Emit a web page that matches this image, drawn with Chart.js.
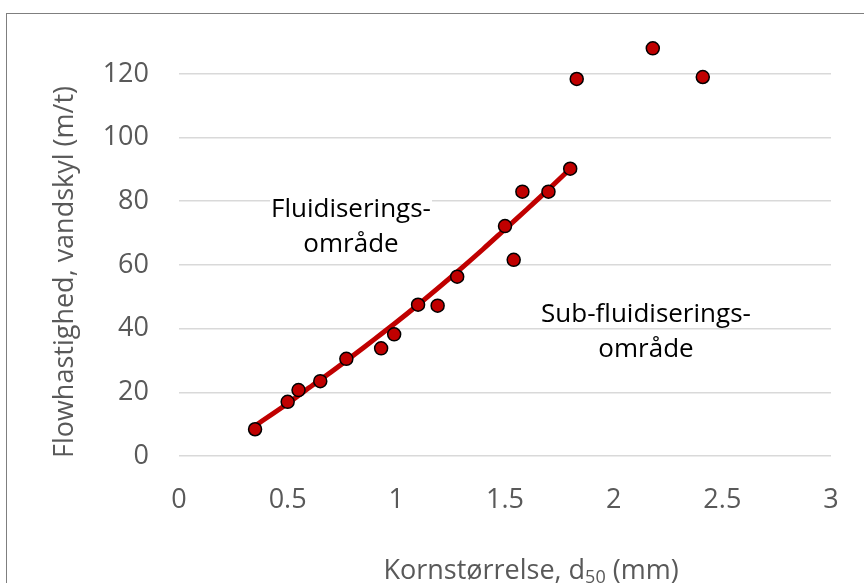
<!DOCTYPE html>
<html>
<head>
<meta charset="utf-8">
<script src="https://cdn.jsdelivr.net/npm/chart.js@4.4.0/dist/chart.umd.min.js"></script>
<style>
  html, body { margin: 0; padding: 0; background: #fff; }
  #wrap { width: 864px; height: 583px; }
</style>
</head>
<body>
<div id="wrap"><canvas id="flowChart" width="864" height="583"></canvas></div>
<script>
// measured points: grain size d50 (mm) vs. backwash flow (m/t)
const grainSize = [0.35, 0.50, 0.55, 0.65, 0.77, 0.93, 0.99, 1.10, 1.19, 1.28, 1.50, 1.54, 1.58, 1.70, 1.80, 1.83, 2.18, 2.41];
const flowRate  = [8.4, 17.0, 20.7, 23.5, 30.5, 33.8, 38.2, 47.5, 47.2, 56.3, 72.2, 61.6, 83.0, 83.0, 90.2, 118.4, 128.0, 119.0];

// red trend curve
const trendX = [0.35, 0.5, 0.6, 0.7, 0.8, 0.9, 1.0, 1.1, 1.2, 1.3, 1.4, 1.5, 1.6, 1.7, 1.8];
const trendY = [9.5, 16.5, 21.5, 26.4, 31.5, 36.7, 42.0, 47.5, 53.2, 59.0, 65.0, 71.2, 77.4, 83.7, 90.2];

const yTicks = [0, 20, 40, 60, 80, 100, 120];
const xTicks = [0, 0.5, 1, 1.5, 2, 2.5, 3];

const FONT = '"Open Sans", "Noto Sans", sans-serif';
const GREY = '#595959';
const RED = '#C00000';

const extras = {
  id: 'extras',
  beforeDraw(chart) {
    const c = chart.ctx;
    c.save();
    c.strokeStyle = '#7f7f7f';
    c.lineWidth = 1;
    c.strokeRect(6.5, 13.5, 900, 600);
    c.restore();
  },
  beforeDatasetsDraw(chart) {
    const c = chart.ctx;
    c.save();
    // white box behind the first label, it hides the grid
    c.fillStyle = '#fff';
    c.fillRect(270, 188, 162, 70);
    c.fillStyle = '#000';
    c.font = '26px ' + FONT;
    c.textAlign = 'center';
    c.textBaseline = 'alphabetic';
    c.fillText('Fluidiserings-', 351, 217);
    c.fillText('område', 351, 252);
    c.fillText('Sub-fluidiserings-', 646, 322);
    c.fillText('område', 646, 357);
    c.restore();
  },
  afterDraw(chart) {
    const c = chart.ctx;
    c.save();
    c.fillStyle = GREY;
    // y title
    c.font = '27px ' + FONT;
    c.translate(73, 272);
    c.rotate(-Math.PI / 2);
    c.textAlign = 'center';
    c.textBaseline = 'alphabetic';
    c.fillText('Flowhastighed, vandskyl (m/t)', 0, 0);
    c.restore();

    // x title with subscript 50
    c.save();
    c.fillStyle = GREY;
    c.textBaseline = 'alphabetic';
    c.textAlign = 'left';
    const p1 = 'Kornstørrelse, d', sub = '50', p2 = ' (mm)';
    c.font = '27px ' + FONT;
    const w1 = c.measureText(p1).width, w3 = c.measureText(p2).width;
    c.font = '18px ' + FONT;
    const w2 = c.measureText(sub).width;
    let x = 531 - (w1 + w2 + w3) / 2;
    const base = 579;
    c.font = '27px ' + FONT;
    c.fillText(p1, x, base);
    c.font = '18px ' + FONT;
    c.fillText(sub, x + w1, base + 4);
    c.font = '27px ' + FONT;
    c.fillText(p2, x + w1 + w2, base);
    c.restore();
  }
};

new Chart(document.getElementById('flowChart').getContext('2d'), {
  type: 'scatter',
  data: {
    datasets: [{
      label: 'Målinger',
      data: grainSize.map((g, i) => ({ x: g, y: flowRate[i] })),
      backgroundColor: RED,
      borderColor: '#000',
      borderWidth: 1.5,
      pointRadius: 6.5,
      order: 1,
      clip: false
    }, {
      label: 'Tendens',
      data: trendX.map((g, i) => ({ x: g, y: trendY[i] })),
      showLine: true,
      borderColor: RED,
      borderWidth: 5,
      pointRadius: 0,
      tension: 0.3,
      order: 2,
      clip: false
    }]
  },
  options: {
    responsive: false,
    animation: false,
    layout: { autoPadding: false, padding: { top: 42, right: 33, left: 0, bottom: 0 } },
    plugins: {
      legend: { display: false },
      tooltip: { enabled: false }
    },
    scales: {
      x: {
        type: 'linear',
        min: 0,
        max: 3,
        afterFit: s => { s.height = 127; s.paddingLeft = 0; s.paddingRight = 0; },
        afterBuildTicks: s => { s.ticks = xTicks.map(v => ({ value: v })); },
        grid: { display: false, drawTicks: false },
        border: { display: false },
        ticks: {
          padding: 28,
          color: GREY,
          font: { family: FONT, size: 27 },
          callback: v => String(v)
        }
      },
      y: {
        min: 0,
        max: 130,
        afterFit: s => { s.width = 179; s.paddingTop = 0; s.paddingBottom = 0; },
        afterBuildTicks: s => { s.ticks = yTicks.map(v => ({ value: v })); },
        grid: { color: '#d9d9d9', lineWidth: 1.5, drawTicks: false },
        border: { display: false },
        ticks: {
          padding: 30,
          color: GREY,
          font: { family: FONT, size: 27 }
        }
      }
    }
  },
  plugins: [extras]
});
</script>
</body>
</html>
